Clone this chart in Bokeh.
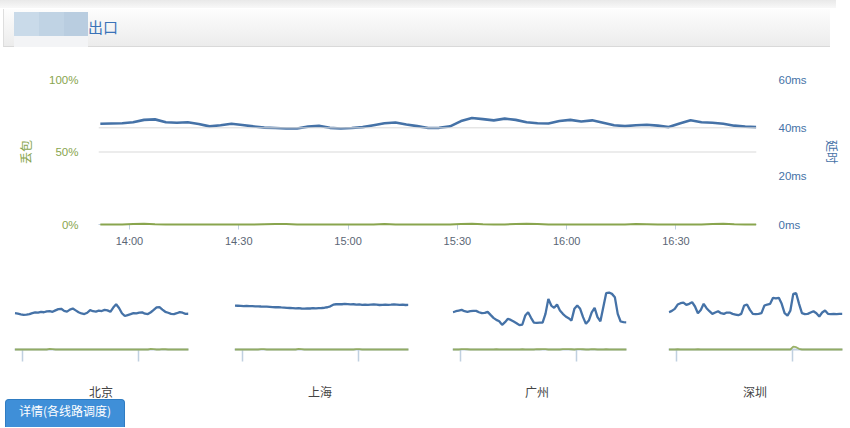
from bokeh.plotting import figure
from bokeh.models import Range1d, LinearAxis, FixedTicker, Span, Div
from bokeh.layouts import column, row
from bokeh.embed import file_html
from bokeh.resources import INLINE

# ---------------- data ----------------
title_text = "出口"
loss_axis_title = "丢包"
latency_axis_title = "延时"
button_text = "详情(各线路调度)"

start_time = "13:52"
step_minutes = 3
x_tick_labels = ["14:00", "14:30", "15:00", "15:30", "16:00", "16:30"]
small_tick_labels = ["14:00", "16:00"]
loss_ticks = [0, 50, 100]
loss_tick_labels = ["0%", "50%", "100%"]
latency_ticks = [0, 20, 40, 60]
latency_tick_labels = ["0ms", "20ms", "40ms", "60ms"]

main_latency = [41.7, 41.8, 41.9, 42.3, 43.3, 43.5, 42.3, 42.1, 42.3, 41.6,
                40.6, 41.1, 41.7, 41.2, 40.6, 40.1, 39.9, 39.7, 39.7, 40.5,
                40.8, 40.0, 39.7, 39.9, 40.3, 41.1, 41.9, 42.2, 41.4, 40.7,
                39.9, 40.0, 40.6, 42.8, 44.1, 43.6, 43.1, 43.8, 43.3, 42.3,
                41.9, 41.8, 42.8, 43.3, 42.6, 43.1, 42.1, 41.1, 40.7, 41.1,
                41.3, 40.9, 40.3, 41.8, 43.1, 42.3, 42.1, 41.7, 40.9, 40.5,
                40.3]
main_loss = [0, 0, 0, 0.3, 0.5, 0.2, 0, 0, 0, 0,
             0, 0, 0, 0, 0, 0.2, 0.4, 0.3, 0, 0,
             0, 0, 0, 0, 0, 0, 0.3, 0, 0, 0,
             0, 0, 0, 0.4, 0.6, 0.2, 0, 0, 0.3, 0.5,
             0.3, 0, 0, 0, 0, 0, 0, 0, 0, 0.4,
             0.2, 0, 0, 0, 0, 0, 0.3, 0.5, 0.2, 0,
             0]

regions = ["北京", "上海", "广州", "深圳"]
bj_latency = [38.5, 38.0, 37.3, 36.7, 36.9, 37.5, 38.6, 39.4, 39.2, 40.0,
              39.5, 40.5, 40.8, 40.0, 41.5, 42.8, 43.2, 41.0, 40.2, 42.3,
              43.5, 41.5, 39.5, 38.2, 37.6, 39.0, 41.8, 40.6, 40.2, 41.2,
              40.8, 42.0, 41.5, 40.0, 44.5, 48.0, 44.0, 38.5, 35.5, 36.5,
              37.5, 38.6, 38.2, 39.0, 39.4, 38.0, 37.6, 39.5, 42.0, 44.6,
              45.0, 42.3, 40.0, 39.0, 37.8, 37.5, 38.5, 39.7, 39.0, 37.8,
              37.9]
sh_latency = [46.6, 46.4, 46.2, 46.0, 46.2, 45.9, 45.9, 45.7, 45.8, 45.6,
              45.5, 45.4, 45.2, 45.0, 44.8, 44.9, 44.6, 44.4, 44.2, 44.0,
              43.8, 43.6, 43.8, 43.5, 43.4, 43.6, 43.5, 43.8, 43.6, 43.9,
              44.0, 44.3, 44.8, 45.8, 47.5, 48.0, 48.2, 48.0, 48.3, 48.1,
              47.9, 48.0, 47.6, 47.8, 47.4, 47.5, 47.3, 47.6, 47.8, 47.5,
              47.2, 47.4, 47.6, 47.3, 47.5, 47.8, 47.6, 47.3, 47.5, 47.2,
              47.3]
gz_latency = [39.5, 40.6, 41.3, 42.0, 40.6, 39.9, 40.6, 41.0, 41.0, 39.5,
              38.5, 38.8, 39.9, 36.7, 33.6, 31.4, 30.0, 26.1, 29.0, 32.5,
              31.4, 29.7, 27.9, 25.8, 26.5, 36.0, 39.5, 33.6, 28.6, 28.3,
              28.6, 28.6, 37.8, 53.7, 46.6, 44.2, 47.7, 41.3, 37.8, 35.0,
              33.2, 30.7, 43.1, 46.6, 43.1, 34.3, 27.2, 30.7, 39.5, 44.2,
              34.3, 30.0, 44.9, 59.7, 60.4, 59.0, 55.5, 37.8, 29.7, 29.0,
              28.8]
sz_latency = [39.5, 41.0, 43.1, 47.7, 49.1, 49.8, 47.3, 48.4, 50.2, 45.6,
              38.5, 42.0, 48.4, 43.8, 40.6, 37.8, 39.2, 40.6, 38.5, 37.8,
              39.2, 39.2, 37.8, 37.1, 36.4, 37.8, 46.6, 47.7, 42.0, 37.8,
              37.5, 37.8, 38.5, 46.6, 47.7, 48.4, 54.8, 54.1, 54.8, 48.4,
              38.5, 36.0, 41.3, 59.0, 59.7, 48.4, 38.5, 37.5, 37.8, 39.2,
              40.6, 38.5, 35.0, 39.2, 41.3, 37.8, 37.5, 37.8, 37.5, 37.8,
              37.8]
bj_loss = [0, 0, 0, 0, 0, 0, 0, 0, 0, 0, 0, 0, 0.8, 0.5, 0, 0, 0, 0, 0, 0,
           0, 0, 0, 0, 0, 0, 0, 0, 0, 0, 0, 0, 0, 0, 0, 0, 0, 0, 0, 0,
           0, 0, 0, 0, 0, 0, 0, 0.8, 0.5, 0, 0, 0.6, 0.4, 0, 0, 0, 0, 0, 0, 0, 0]
sh_loss = [0, 0, 0, 0, 0, 0, 0, 0, 0, 0.6, 0.5, 0, 0, 0, 0, 0, 0, 0, 0, 0,
           0, 0, 0.8, 0.6, 0, 0, 0, 0, 0, 0, 0, 0, 0, 0, 0, 0, 0, 0, 0, 0,
           0, 0, 0.7, 0.5, 0, 0, 0, 0, 0, 0, 0, 0, 0, 0, 0, 0, 0, 0, 0, 0, 0]
gz_loss = [0, 0, 0, 0.5, 0.6, 0.4, 0, 0, 0, 0, 0, 0, 0, 0, 0, 0.4, 0, 0, 0, 0,
           0, 0, 0, 0, 0.4, 0, 0, 0, 0, 0.5, 0.4, 0.6, 0.5, 0, 0, 0, 0, 0, 0.6, 0.7,
           0.5, 0.4, 0, 0.5, 0.6, 0.4, 0, 0, 0.5, 0.4, 0, 0, 0, 0.4, 0, 0, 0, 0, 0, 0, 0]
sz_loss = [0, 0, 0, 0.4, 0, 0, 0, 0, 0, 0, 0.4, 0, 0, 0, 0, 0, 0, 0, 0, 0,
           0, 0, 0, 0, 0, 0, 0, 0, 0, 0, 0, 0, 0, 0, 0, 0, 0, 0, 0, 0,
           0, 0, 0, 4.5, 3.5, 1.0, 0, 0, 0, 0, 0, 0, 0, 0, 0, 0, 0, 0, 0, 0, 0]

# ---------------- helpers ----------------
def to_min(s):
    h, m = s.split(":")
    return int(h) * 60 + int(m)

t0 = to_min(start_time)
xs = [t0 + step_minutes * i for i in range(len(main_latency))]
x_lo, x_hi = t0 - 0.5, xs[-1] + 0.1

BLUE = "#4572A7"
GREEN = "#89A54E"
AXIS_C = "#C0D0E0"
CJK = "Noto Sans CJK SC"
LAT = "Liberation Sans"

# ---------------- header ----------------
header_html = f"""
<div style="position:relative;width:850px;height:48px;background:#ffffff;">
 <div style="position:absolute;left:0;top:0;width:836px;height:8px;background:linear-gradient(#e9e9e9,#f8f8f8)"></div>
 <div style="position:absolute;left:3px;top:9px;width:827px;height:38px;background:linear-gradient(#fdfdfd,#ececec);
  border-bottom:1px solid #d9d9d9;border-left:1px solid #dedede;box-sizing:border-box"></div>
 <div style="position:absolute;left:14px;top:12px;width:25px;height:24px;background:#c9dae9"></div>
 <div style="position:absolute;left:39px;top:12px;width:25px;height:24px;background:#c0d3e4"></div>
 <div style="position:absolute;left:64px;top:12px;width:24px;height:24px;background:#b9cde0"></div>
 <div style="position:absolute;left:14px;top:36px;width:74px;height:11px;background:#f3f4f6"></div>
 <span style="position:absolute;left:88px;top:17px;font-family:'{CJK}';font-size:15px;line-height:20px;color:#3a73b8">{title_text}</span>
</div>"""
header = Div(text=header_html, width=850, height=48, margin=0)

# ---------------- main chart ----------------
p = figure(width=850, height=222, output_backend="svg", toolbar_location=None,
           x_range=Range1d(x_lo, x_hi), y_range=Range1d(0, 100),
           min_border_left=98, min_border_right=94, min_border_top=31, min_border_bottom=46)
p.outline_line_color = None
p.grid.visible = False
p.extra_y_ranges = {"ms": Range1d(0, 60)}

p.add_layout(Span(location=50, dimension="width", line_color="#d9d9d9", line_width=1))
p.add_layout(Span(location=40, dimension="width", y_range_name="ms", line_color="#d9d9d9", line_width=1))

def style_y(ax, ticks, labels, color, title, standoff, title_standoff):
    ax.ticker = FixedTicker(ticks=ticks)
    ax.major_label_overrides = {t: l for t, l in zip(ticks, labels)}
    ax.axis_line_color = None
    ax.major_tick_line_color = None
    ax.minor_tick_line_color = None
    ax.major_tick_out = 0
    ax.major_tick_in = 0
    ax.minor_tick_out = 0
    ax.major_label_standoff = standoff
    ax.major_label_text_color = color
    ax.major_label_text_font = LAT
    ax.major_label_text_font_size = "11.5px"
    ax.axis_label = title
    ax.axis_label_text_color = color
    ax.axis_label_text_font = CJK
    ax.axis_label_text_font_style = "normal"
    ax.axis_label_text_font_size = "12px"
    ax.axis_label_standoff = title_standoff

style_y(p.yaxis[0], loss_ticks, loss_tick_labels, GREEN, loss_axis_title, 20, 12)
ra = LinearAxis(y_range_name="ms")
style_y(ra, latency_ticks, latency_tick_labels, BLUE, latency_axis_title, 22, 14)
p.add_layout(ra, "right")

xa = p.xaxis[0]
xt = [to_min(s) for s in x_tick_labels]
xa.ticker = FixedTicker(ticks=xt)
xa.major_label_overrides = {t: l for t, l in zip(xt, x_tick_labels)}
xa.axis_line_color = AXIS_C
xa.major_tick_line_color = AXIS_C
xa.major_tick_out = 5
xa.major_tick_in = 0
xa.minor_tick_line_color = None
xa.major_label_text_color = "#5b6675"
xa.major_label_text_font = LAT
xa.major_label_text_font_size = "11px"
xa.major_label_standoff = 5

p.line(xs, main_loss, line_color=GREEN, line_width=2, level="overlay")
p.line(xs, main_latency, y_range_name="ms", line_color=BLUE, line_width=2.6)

# ---------------- small multiples ----------------
def small(lat, loss, width, left, right):
    f = figure(width=width, height=113, output_backend="svg", toolbar_location=None,
               x_range=Range1d(x_lo, x_hi), y_range=Range1d(0, 70), y_axis_location=None,
               min_border_left=left, min_border_right=right, min_border_top=13, min_border_bottom=34)
    f.outline_line_color = None
    f.grid.visible = False
    f.extra_y_ranges = {"loss": Range1d(0, 100)}
    ax = f.xaxis[0]
    st = [to_min(s) for s in small_tick_labels]
    ax.ticker = FixedTicker(ticks=st)
    ax.major_label_overrides = {t: "" for t in st}
    ax.major_label_text_font_size = "10px"
    ax.major_label_standoff = 0
    ax.axis_line_color = AXIS_C
    ax.axis_line_width = 2
    ax.major_tick_line_color = AXIS_C
    ax.major_tick_line_width = 1.5
    ax.major_tick_out = 12
    ax.major_tick_in = 0
    ax.minor_tick_line_color = None
    f.line(xs, loss, y_range_name="loss", line_color=GREEN, line_width=1.8, line_alpha=0.85, level="overlay")
    f.line(xs, lat, line_color=BLUE, line_width=2.3)
    return f

s1 = small(bj_latency, bj_loss, 224, 14, 36)
s2 = small(sh_latency, sh_loss, 220, 10, 36)
s3 = small(gz_latency, gz_loss, 216, 8, 34)
s4 = small(sz_latency, sz_loss, 190, 8, 8)
smalls = row(s1, s2, s3, s4, spacing=0)

centers = [101, 320, 537, 755]
labels_html = "".join(
    f'<span style="position:absolute;left:{c - 40}px;top:0;width:80px;text-align:center;'
    f'font-family:\'{CJK}\';font-size:12px;line-height:18px;color:#444">{n}</span>'
    for c, n in zip(centers, regions))
bottom_html = f"""
<div style="position:relative;width:850px;height:44px;">
 {labels_html}
 <div style="position:absolute;left:5px;top:16px;width:120px;height:28px;background:#3f8fd8;
  border:1px solid #2f7cc2;border-bottom:none;border-radius:4px 4px 0 0;color:#ffffff;
  font-family:'{CJK}';font-size:12px;line-height:22px;text-align:center;box-sizing:border-box">{button_text}</div>
</div>"""
bottom = Div(text=bottom_html, width=850, height=44, margin=0)

layout = column(header, p, smalls, bottom, spacing=0)
open("out.html", "w").write(file_html(layout, INLINE))
